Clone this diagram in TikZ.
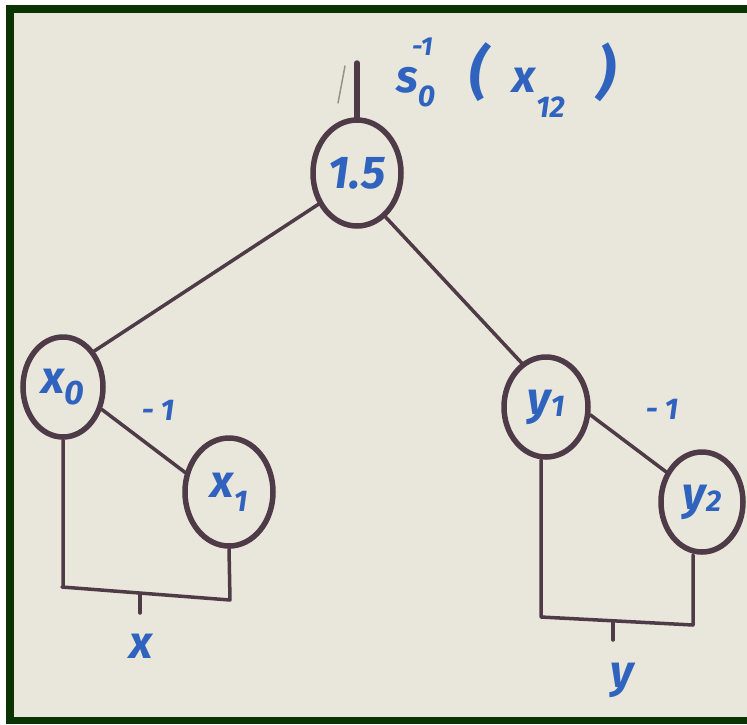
\documentclass[tikz,border=0pt]{standalone}
\usepackage{fontspec}
\setmainfont{Fira Sans}
\usetikzlibrary{shapes.geometric}
\definecolor{frame}{HTML}{0A3300}
\definecolor{paper}{HTML}{E9E7DC}
\definecolor{ink}{HTML}{4E3B47}
\definecolor{pen}{HTML}{2F63BE}
\definecolor{pencil}{HTML}{9A9088}
\tikzset{
  vnode/.style={ellipse, draw=ink, line width=5.5pt, inner sep=0pt, text=pen,
    font=\fontsize{46}{50}\selectfont\itshape\bfseries},
  wire/.style={draw=ink, line width=3.5pt, line cap=round, line join=round},
  penlabel/.style={text=pen, inner sep=0pt, font=\fontsize{46}{50}\selectfont\itshape\bfseries},
  weight/.style={text=pen, inner sep=0pt, font=\fontsize{30}{34}\selectfont\itshape\bfseries}
}
\begin{document}
\begin{tikzpicture}[x=1pt,y=-1pt]
\useasboundingbox (0,0) rectangle (747,724);
\fill[white] (0,0) rectangle (747,724);
\fill[frame] (6,5) rectangle (747,724);
\fill[paper] (14,13) rectangle (747,717);

% nodes
\node[vnode, minimum width=88pt, minimum height=106pt] (root) at (357,173) {1.5};
\node[vnode, minimum width=80pt, minimum height=100pt] (x0) at (63,387) {x\raisebox{-0.25em}{\fontsize{34}{36}\selectfont 0}};
\node[vnode, minimum width=88pt, minimum height=108pt] (x1) at (229,492) {x\raisebox{-0.3em}{\fontsize{30}{32}\selectfont 1}};
\node[vnode, minimum width=84pt, minimum height=100pt] (y1) at (546,407) {y\raisebox{-0.05em}{\fontsize{30}{32}\selectfont 1}};
\node[vnode, minimum width=82pt, minimum height=100pt] (y2) at (702,502) {y\raisebox{-0.05em}{\fontsize{30}{32}\selectfont 2}};

% edges
\draw[wire] (root.219) -- (x0.49);
\draw[wire] (root.303) -- (y1.119);
\draw[wire] (x0.330) -- (x1.156);
\draw[wire] (y1.350) -- (y2.140);

% top input marks
\coordinate (intop) at (357,63);
\draw[draw=ink, line width=5.5pt, line cap=round] (intop) -- (root.north);
\coordinate (pa) at (345,66);
\coordinate (pb) at (338,103);
\draw[draw=pencil, line width=1.5pt, line cap=round] (pa) -- (pb);

% output label
\node[penlabel, anchor=west] (slab) at (396,78)
  {s\raisebox{-0.3em}{\fontsize{30}{32}\selectfont 0}\hspace{-0.5em}\raisebox{0.8em}{\fontsize{26}{28}\selectfont -1}\hspace{0.8em}{\fontsize{58}{60}\selectfont (}\hspace{0.55em}x\raisebox{-0.55em}{\fontsize{30}{32}\selectfont 12}\hspace{0.7em}{\fontsize{58}{60}\selectfont )}};

% weights
\node[weight] (wx) at (158,410) {- 1};
\node[weight] (wy) at (662,409) {- 1};

% x bracket
\coordinate (xbl) at (62,587);
\coordinate (xbr) at (230,600);
\draw[wire] (x0.south) -- (x0.south |- xbl) -- (xbl) -- (xbr) -- (x1.south);
\coordinate (xt1) at (140,594);
\coordinate (xt2) at (140,613);
\draw[wire] (xt1) -- (xt2);
\node[penlabel] (xlab) at (141,646) {x};

% y bracket
\coordinate (ybl) at (541,617);
\coordinate (ybr) at (693,625);
\draw[wire] (y1.south -| ybl) -- (ybl) -- (ybr) -- (y2.south -| ybr);
\coordinate (yt1) at (613,622);
\coordinate (yt2) at (613,640);
\draw[wire] (yt1) -- (yt2);
\node[penlabel] (ylab) at (622,680) {y};
\end{tikzpicture}
\end{document}
